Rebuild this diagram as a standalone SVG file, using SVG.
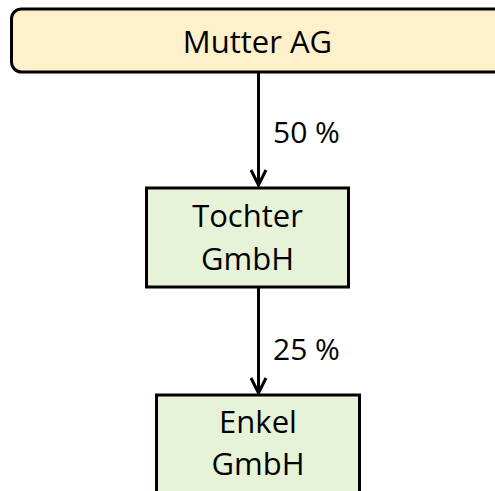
<svg xmlns="http://www.w3.org/2000/svg" width="495" height="491" viewBox="0 0 495 491">
  <style>
    .box { stroke: #000; stroke-width: 3; }
    .parent { fill: #fff0cc; }
    .child { fill: #e6f3d8; }
    .lbl { font-family: "Open Sans", "Liberation Sans", sans-serif; font-size: 31px; fill: #000; text-anchor: middle; }
    .pct { font-family: "Open Sans", "Liberation Sans", sans-serif; font-size: 30px; fill: #000; }
    .conn { stroke: #000; stroke-width: 3; fill: none; }
  </style>
  <defs>
    <marker id="arr" viewBox="0 0 20 20" refX="17" refY="10" markerWidth="20" markerHeight="20" markerUnits="userSpaceOnUse" orient="auto">
      <path d="M2,2.5 L17,10 L2,17.5" fill="none" stroke="#000" stroke-width="3"/>
    </marker>
  </defs>
  <g id="connectors">
    <line class="conn" x1="258.5" y1="72" x2="258.5" y2="185" marker-end="url(#arr)"/>
    <line class="conn" x1="258.5" y1="287" x2="258.5" y2="393" marker-end="url(#arr)"/>
    <text class="pct" x="273" y="143">50 %</text>
    <text class="pct" x="273" y="360">25 %</text>
  </g>
  <g id="mutter">
    <rect class="box parent" x="11.5" y="9" width="500" height="63" rx="10" ry="10"/>
    <text class="lbl" x="257.5" y="53">Mutter AG</text>
  </g>
  <g id="tochter">
    <rect class="box child" x="146.5" y="188" width="202" height="99"/>
    <text class="lbl" x="247.5" y="227">Tochter</text>
    <text class="lbl" x="247.5" y="270">GmbH</text>
  </g>
  <g id="enkel">
    <rect class="box child" x="156.5" y="395" width="203" height="110"/>
    <text class="lbl" x="258" y="433">Enkel</text>
    <text class="lbl" x="258" y="475">GmbH</text>
  </g>
</svg>
